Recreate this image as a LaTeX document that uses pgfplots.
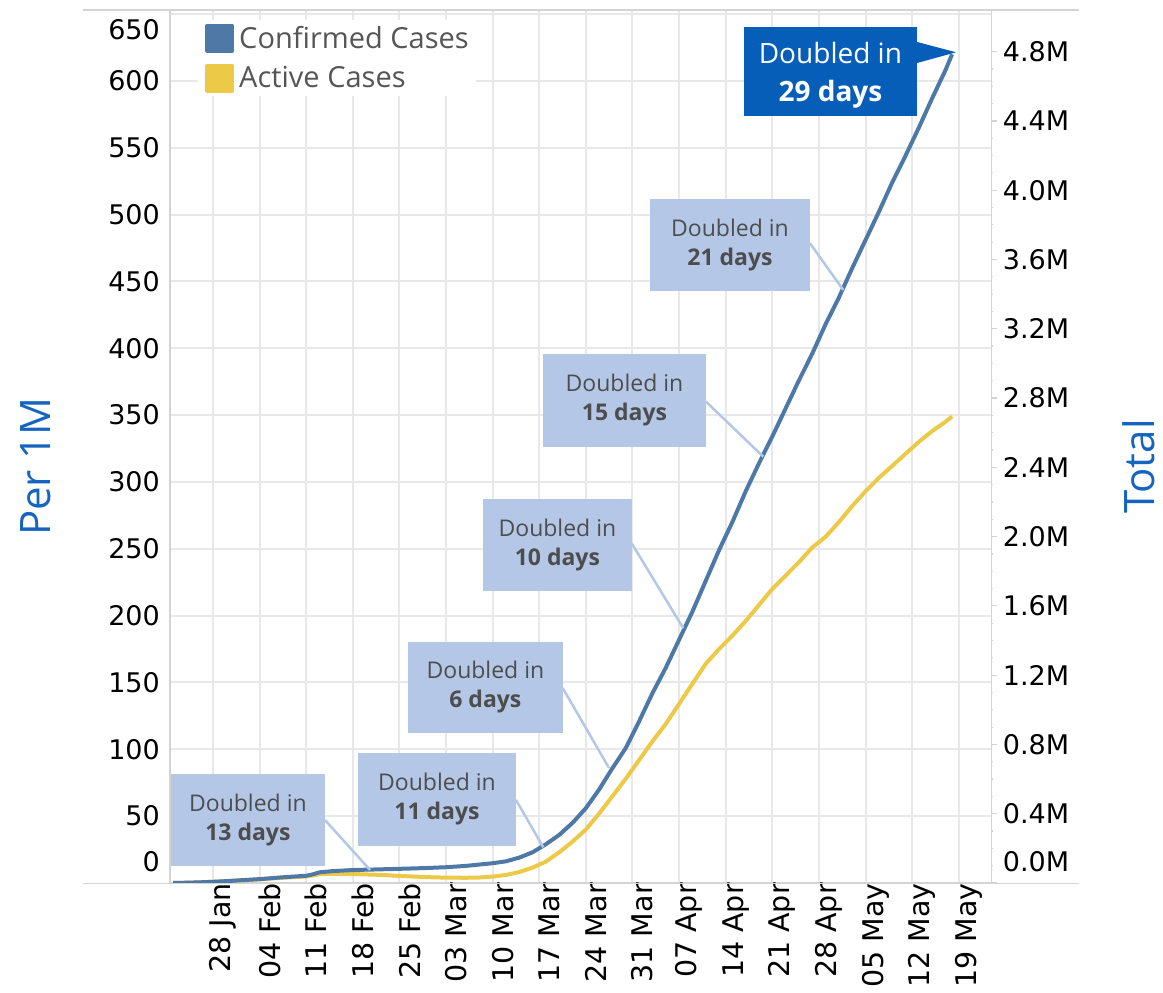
\documentclass[border=0pt]{standalone}
\usepackage{fontspec}
\setmainfont{Open Sans}
\newfontfamily\tickfont{DejaVu Sans}
\usepackage{pgfplots}
\usepackage{pgfplotstable}
\pgfplotsset{compat=1.18}
\definecolor{cconf}{HTML}{4E79A7}
\definecolor{cact}{HTML}{EDC948}
\definecolor{cbox}{HTML}{B4C7E7}
\definecolor{cboxtxt}{HTML}{4D4D4D}
\definecolor{cdark}{HTML}{065EB8}
\definecolor{ctitle}{HTML}{1565C0}
\definecolor{cgrid}{HTML}{E8E8E8}
\definecolor{caxis}{HTML}{D4D4D4}
\definecolor{clegtxt}{HTML}{555555}

% x = days since 28 Jan 2020, y = cases per 1M
\pgfplotstableread{
day val
-6 0.1
-4 0.2
-2 0.5
0 0.9
2 1.4
4 2.0
7 2.9
10 4.1
13 5.1
14 5.4
15 6.5
16 8.0
18 8.9
21 9.7
25 10.2
28 10.6
32 11.2
35 11.8
38 12.8
40 13.8
42 14.8
44 16.2
46 19
48 23
50 29
52 36
54 45
56 56
58 70
60 86
62 101
64 121
66 142
68 161
70 182
72 203
74 226
76 249
78 270
80 293
82 314
84 334
86 355
88 376
90 396
92 418
94 438
96 460
98 481
100 502
102 524
104 544
106 565
108 587
110 608
111 620
}\conftab

\pgfplotstableread{
day val
-6 0.1
-4 0.2
-2 0.5
0 0.9
2 1.3
4 1.9
7 2.7
10 3.8
13 4.6
14 4.9
15 5.6
16 6.6
18 6.9
21 6.7
25 6.1
28 5.3
32 4.4
35 4.0
38 3.9
40 4.1
42 4.8
44 6.0
46 8.2
48 11.5
50 16
52 23
54 31
56 40
58 52
60 65
62 78
64 92
66 106
68 119
70 134
72 149
74 164
76 175
78 185
80 196
82 208
84 220
86 230
88 240
90 251
92 259
94 270
96 282
98 293
100 303
102 312
104 321
106 330
108 338
110 345
111 349
}\acttab

\begin{document}
\begin{tikzpicture}
\useasboundingbox (0,0) rectangle (1163pt,993pt);
\begin{axis}[
  at={(170pt,110pt)}, anchor=south west,
  scale only axis, width=821.7pt, height=873pt,
  xmin=-6.46, xmax=116.95, ymin=0, ymax=653.1,
  axis x line*=bottom, axis y line*=left,
  axis line style={draw=caxis, line width=1.5pt, -},
  xtick={0,7,...,112},
  xticklabels={28 Jan,04 Feb,11 Feb,18 Feb,25 Feb,03 Mar,10 Mar,17 Mar,24 Mar,31 Mar,07 Apr,14 Apr,21 Apr,28 Apr,05 May,12 May,19 May},
  ytick={0,50,100,150,200,250,300,350,400,450,500,550,600,650},
  yticklabels={{\raisebox{21pt}[\height][\depth]{0}},50,100,150,200,250,300,350,400,450,500,550,600,{\raisebox{-16pt}[\height][\depth]{650}}},
  major tick length=0pt,
  grid=major, major grid style={draw=cgrid, line width=2pt},
  /pgf/number format/assume math mode=true,
  tick label style={font=\tickfont\fontsize{27}{30}\selectfont, text=black},
  xticklabel style={rotate=90, anchor=east, inner sep=0pt, yshift=-10pt, font=\tickfont\fontsize{28.5}{30}\selectfont},
  yticklabel style={anchor=east, inner sep=0pt, xshift=-10pt},
  ylabel={Per 1M},
  ylabel style={at={(axis description cs:-0.164,0.477)}, anchor=center, rotate=0, font=\fontsize{42}{44}\selectfont, text=ctitle},
  legend style={at={(axis description cs:0.0341,0.98855)}, anchor=north west, draw=none, fill=white, inner xsep=7pt, inner ysep=3.5pt,
    font=\fontsize{29}{31}\selectfont, text=clegtxt, row sep=11pt, cells={anchor=west},
    nodes={inner sep=0pt},
    /tikz/every odd column/.append style={column sep=5pt}},
  reverse legend,
]
\addplot[cact, line width=4pt, line join=round,
  legend image code/.code={\fill[cact] (0pt,-13pt) rectangle (25pt,12pt);}]
  table[x=day,y=val]{\acttab};
\addlegendentry{Active Cases}
\addplot[cconf, line width=4pt, line join=round,
  legend image code/.code={\fill[cconf] (0pt,-13pt) rectangle (25pt,12pt);}]
  table[x=day,y=val]{\conftab};
\addlegendentry{Confirmed Cases}
\end{axis}

\begin{axis}[
  at={(170pt,110pt)}, anchor=south west,
  scale only axis, width=821.7pt, height=873pt,
  xmin=-6.46, xmax=116.95, ymin=0, ymax=5.0404,
  axis x line=none, axis y line*=right,
  axis line style={draw=caxis, line width=1.5pt, -},
  ytick={0,0.4,0.8,1.2,1.6,2.0,2.4,2.8,3.2,3.6,4.0,4.4,4.8},
  yticklabels={{\raisebox{21pt}[\height][\depth]{0.0M}},0.4M,0.8M,1.2M,1.6M,2.0M,2.4M,2.8M,3.2M,3.6M,4.0M,4.4M,4.8M},
  minor y tick num=3,
  tick align=outside, major tick length=5pt, minor tick length=1.5pt,
  every tick/.style={draw=caxis, line width=1.2pt},
  /pgf/number format/assume math mode=true,
  tick label style={font=\tickfont\fontsize{27}{30}\selectfont, text=black},
  yticklabel style={anchor=west, inner sep=0pt, xshift=6pt},
  ylabel={Total},
  ylabel style={at={(axis description cs:1.1793,0.477)}, anchor=center, rotate=0, font=\fontsize{42}{44}\selectfont, text=ctitle},
]
\end{axis}

% extended top and bottom borders
\draw[caxis, line width=1.5pt] (83pt,983pt) -- (1079pt,983pt);
\draw[caxis, line width=1.5pt] (83pt,109.5pt) -- (1079pt,109.5pt);

% annotations (pixel frame, y downwards)
\begin{scope}[x=1pt,y=-1pt,yshift=993pt,
  lead/.style={draw=cbox, line width=2.5pt},
  bx/.style={fill=cbox, inner sep=0pt, align=center, text=cboxtxt, font=\fontsize{23}{29}\selectfont}]
\draw[lead] (325,820) -- (370,870);
\node[bx, minimum width=154.3pt, minimum height=92pt] at (247.9,820) {Doubled in\\\textbf{13 days}};
\draw[lead] (516,800) -- (543.3,847.3);
\node[bx, minimum width=158pt, minimum height=93pt] at (437,799.5) {Doubled in\\\textbf{11 days}};
\draw[lead] (562.7,688) -- (609,768);
\node[bx, minimum width=154.7pt, minimum height=91pt] at (485.4,687.5) {Doubled in\\\textbf{6 days}};
\draw[lead] (631.7,543.3) -- (683.3,628.3);
\node[bx, minimum width=148.7pt, minimum height=91.7pt] at (557.4,544.9) {Doubled in\\\textbf{10 days}};
\draw[lead] (706,401.7) -- (763.3,456.7);
\node[bx, minimum width=163pt, minimum height=92.7pt] at (624.5,400.4) {Doubled in\\\textbf{15 days}};
\draw[lead] (810,243.3) -- (843.3,290);
\node[bx, minimum width=160pt, minimum height=91.7pt] at (730,244.9) {Doubled in\\\textbf{21 days}};
\fill[cdark] (744,26.7) rectangle (916.7,115.7);
\fill[cdark] (916,41.7) -- (956,52.3) -- (916,63.3) -- cycle;
\node[inner sep=0pt, align=center, text=white, font=\fontsize{28}{38}\selectfont] at (830.4,75) {Doubled in\\\textbf{29 days}};
\end{scope}
\end{tikzpicture}
\end{document}
